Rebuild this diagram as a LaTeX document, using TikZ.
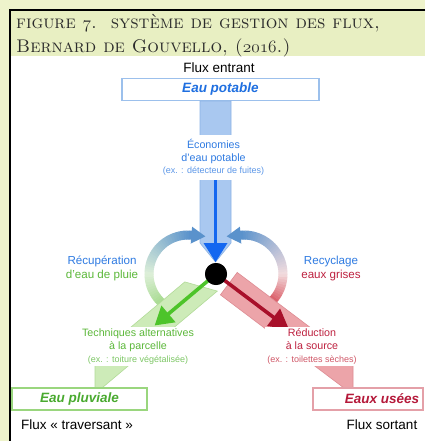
\documentclass[tikz,border=0pt]{standalone}
\usepackage{fontspec}
\newfontfamily\arial{Liberation Sans}
\usetikzlibrary{calc}
\definecolor{outerbg}{HTML}{EEF3CB}
\definecolor{headbg}{HTML}{E8EFC2}
\definecolor{titlecol}{HTML}{2B2B2B}
\definecolor{bluebox}{HTML}{9CC0EC}
\definecolor{greenbox}{HTML}{9AD67E}
\definecolor{redbox}{HTML}{E4A0A8}
\definecolor{bluetxt}{HTML}{2F7BE2}
\definecolor{bluesm}{HTML}{5C97E8}
\definecolor{bluebold}{HTML}{1F6FE0}
\definecolor{greentxt}{HTML}{5CB83A}
\definecolor{greensm}{HTML}{7DC765}
\definecolor{greenbold}{HTML}{4AAA30}
\definecolor{redtxt}{HTML}{BE2240}
\definecolor{redsm}{HTML}{D05868}
\definecolor{redbold}{HTML}{B5193A}
\definecolor{bandB}{HTML}{A9C8F0}
\definecolor{bandBe}{HTML}{8CB3E6}
\definecolor{bandG}{HTML}{CDEBB8}
\definecolor{bandGe}{HTML}{B2DB98}
\definecolor{bandR}{HTML}{ECA4A9}
\definecolor{bandRe}{HTML}{DE8C93}
\definecolor{darkB}{HTML}{1467F0}
\definecolor{darkG}{HTML}{4DC42A}
\definecolor{darkR}{HTML}{A8102A}
\definecolor{arcG}{HTML}{A3D98A}
\definecolor{arcP}{HTML}{DDEFD8}
\definecolor{arcB}{HTML}{5A92CC}
\definecolor{arcR}{HTML}{D5404C}
\definecolor{arcPr}{HTML}{F2DCDE}
\newcommand{\osn}[1]{{\usefont{OML}{cmm}{m}{it}#1}}
\begin{document}
\begin{tikzpicture}[x=1pt,y=-1pt,
  titletext/.style={anchor=base west, inner sep=0pt, text=titlecol, font=\fontsize{18.3}{22}\selectfont},
  plain/.style={inner sep=0pt, font=\arial\fontsize{13.5}{15}\selectfont, text=black},
  boxtext/.style={inner sep=0pt, font=\arial\bfseries\itshape\fontsize{13.5}{15}\selectfont},
  flowbox/.style={line width=1.2pt, fill=white, minimum height=22pt, inner sep=0pt},
  midtext/.style={align=center, fill=white, inner xsep=2pt, inner ysep=2pt, font=\arial\fontsize{10.7}{12.6}\selectfont},
  sidetext/.style={align=center, inner sep=0pt, font=\arial\fontsize{11.6}{14}\selectfont},
  band/.style={line width=0.6pt},
  darkshaft/.style={line width=3.6pt},
]
\useasboundingbox (0,0) rectangle (425,441);
\fill[outerbg] (0,0) rectangle (425,441);
\fill[headbg] (10,10) rectangle (425,56);
\fill[white] (10,56) rectangle (425,441);
\draw[black,line width=2pt] (425,10) -- (10,10) -- (10,441);

% title
\node[titletext] (t1) at (16,28.5) {\textsc{figure \osn{7}.\ \ système de gestion des flux,}};
\node[titletext] (t2) at (16,52.5) {\textsc{Bernard de Gouvello, (\osn{2016}.)}};

% top
\node[plain] (fe) at (219,68) {Flux entrant};
\node[flowbox, draw=bluebox, minimum width=197pt, boxtext, text=bluebold] (ep) at (220.5,89.5) {Eau potable};

% blue band
\filldraw[band, fill=bandB, draw=bandBe] (200,101) -- (231,101) -- (231,243) -- (215.5,262) -- (200,243) -- cycle;

% curved arrows
\coordinate (lc) at (188,274);
\coordinate (rc) at (244,274);
\foreach \i in {0,...,39}{
  \pgfmathsetmacro\aa{128+\i*147/40}
  \pgfmathsetmacro\ab{\aa+147/40+0.8}
  \pgfmathsetmacro\f{\i/39}
  \ifdim \f pt < 0.35pt
    \pgfmathtruncatemacro\p{100*(1-\f/0.35)}
    \def\colA{arcG!\p!arcP}
  \else
    \pgfmathtruncatemacro\p{100*(\f-0.35)/0.65}
    \def\colA{arcB!\p!arcP}
  \fi
  \draw[line width=9pt, color=\colA] (lc) ++(\aa:39) arc[start angle=\aa, end angle=\ab, radius=39];
  \pgfmathsetmacro\ba{52-\i*147/40}
  \pgfmathsetmacro\bb{\ba-147/40-0.8}
  \ifdim \f pt < 0.35pt
    \pgfmathtruncatemacro\p{100*(1-\f/0.35)}
    \def\colB{arcR!\p!arcPr}
  \else
    \pgfmathtruncatemacro\p{100*(\f-0.35)/0.65}
    \def\colB{arcB!\p!arcPr}
  \fi
  \draw[line width=9pt, color=\colB] (rc) ++(\ba:39) arc[start angle=\ba, end angle=\bb, radius=39];
}
\coordinate (lh1) at (192.1,226.7);
\coordinate (lh2) at (190.7,243.6);
\coordinate (lht) at (205.4,236.4);
\fill[arcB] (lh1) -- (lht) -- (lh2) -- cycle;
\coordinate (rh1) at (239.9,226.7);
\coordinate (rh2) at (241.3,243.6);
\coordinate (rht) at (226.6,236.4);
\fill[arcB] (rh1) -- (rht) -- (rh2) -- cycle;

% green and red bands
\filldraw[band, fill=bandG, draw=bandGe] (184.8,281.9) -- (95,357.3) -- (95,393.8) -- (217.3,291.1) -- cycle;
\filldraw[band, fill=bandR, draw=bandRe] (237.2,272.4) -- (353,359.7) -- (353,394.8) -- (220.4,294.8) -- cycle;

% dot
\node[circle, fill=black, minimum size=22pt, inner sep=0pt] (dot) at (216,274) {};

% dark arrows
\coordinate (bs) at (215.5,180);
\coordinate (bb) at (215.5,245);
\draw[darkshaft, darkB] (bs) -- (bb);
\fill[darkB] (203.5,243) -- (227.5,243) -- (215.5,262) -- cycle;
\coordinate (gb) at (167.7,314.5);
\draw[darkshaft, darkG] (dot.center) -- (gb);
\fill[darkG] (175.6,322.3) -- (161.4,305.5) -- (154.7,325.4) -- cycle;
\coordinate (rb) at (274.3,317.9);
\draw[darkshaft, darkR] (dot.center) -- (rb);
\fill[darkR] (280.1,308.5) -- (266.9,326.1) -- (288.7,328.8) -- cycle;
\node[circle, fill=black, minimum size=22pt, inner sep=0pt] at (dot) {};

% texts on bands
\node[midtext, text=bluetxt, minimum height=45pt] (eco) at (213.5,157.5)
  {Économies\\d’eau potable\\{\fontsize{9}{10.5}\selectfont\color{bluesm}(ex. : détecteur de fuites)}};
\node[midtext, text=greentxt] (tech) at (138,346.5)
  {Techniques alternatives\\à la parcelle\\{\fontsize{9}{10.5}\selectfont\color{greensm}(ex. : toiture végétalisée)}};
\node[midtext, text=redtxt] (red) at (312,346.5)
  {Réduction\\à la source\\{\fontsize{9}{10.5}\selectfont\color{redsm}(ex. : toilettes sèches)}};

% side labels
\node[sidetext] (recup) at (102,268) {\textcolor{bluetxt}{Récupération}\\\textcolor{greentxt}{d’eau de pluie}};
\node[sidetext] (recy) at (331,268) {\textcolor{bluetxt}{Recyclage}\\\textcolor{redtxt}{eaux grises}};

% bottom boxes
\node[flowbox, draw=greenbox, minimum width=135pt, boxtext, text=greenbold] (epl) at (79.5,399) {Eau pluviale};
\node[flowbox, draw=redbox, minimum width=110pt] (eub) at (368,399) {};
\node[boxtext, text=redbold] (eu) at (382,399) {Eaux usées};
\node[plain] (ft) at (77,425) {Flux « traversant »};
\node[plain] (fs) at (382,425) {Flux sortant};
\end{tikzpicture}
\end{document}
